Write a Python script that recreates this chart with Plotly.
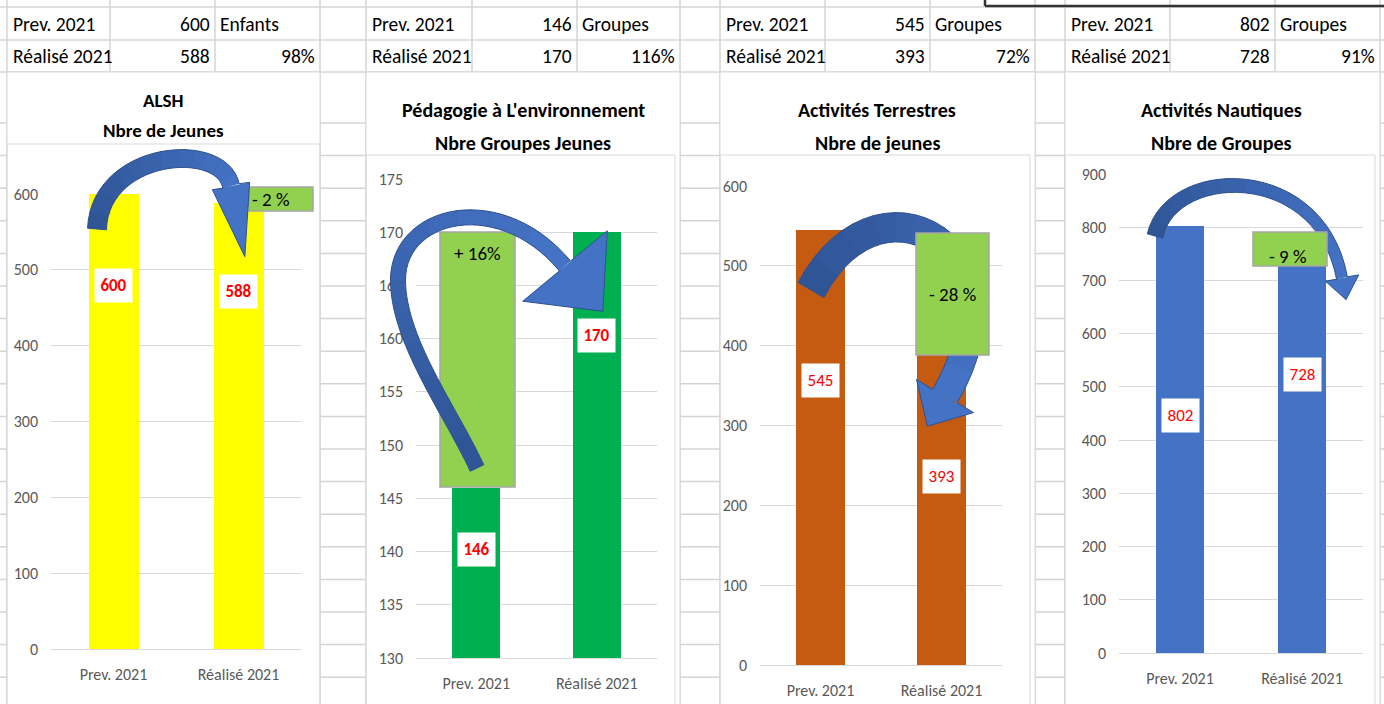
import plotly.graph_objects as go

W, H = 1384, 704
FONT = "Carlito, 'Liberation Sans Narrow', 'Arial Narrow', 'DejaVu Sans Condensed', sans-serif"

# Values read from the sheet
categories = ["Prev. 2021", "Réalisé 2021"]
prev_2021 = [600, 146, 545, 802]
realise_2021 = [588, 170, 393, 728]
units = ["Enfants", "Groupes", "Groupes", "Groupes"]
titles = ["ALSH", "Pédagogie à L'environnement", "Activités Terrestres", "Activités Nautiques"]
subtitles = ["Nbre de Jeunes", "Nbre Groupes Jeunes", "Nbre de jeunes", "Nbre de Groupes"]
y_ranges = [[0, 600], [130, 175], [0, 600], [0, 900]]
y_steps = [100, 5, 100, 100]

bar_colors = ["#FFFF00", "#00B050", "#C55A11", "#4472C4"]
GREEN = "#92D050"

# Where each block sits on the sheet (pixels)
panels = [
    dict(cols=[7, 110, 215, 320], chart=[7, 72, 320], frame=[7, 144, 320], grid_x=[51, 301], grid_y=[649, 194],
         title_x=163, title_y=[100, 130], title_size=19, bold=True, label_y=[480, 472],
         box=[249, 187, 313, 211], box_text=[271, 199], pct_sp=" %", box_on_top=False,
         arrow=dict(segs=[[(97, 229), (100, 150), (222, 140), (231, 186)]], w=[19, 17], head=[19, 72])),
    dict(cols=[366, 472, 577, 680], chart=[366, 72, 680], frame=[366, 155, 675], grid_x=[416, 657], grid_y=[658, 179],
         title_x=523, title_y=[110, 143], title_size=20, bold=True, label_y=[140.2, 160.3],
         box=[440, 232, 515, 487], box_text=[477, 253], pct_sp="%", box_on_top=False,
         arrow=dict(segs=[[(477, 468), (450, 410), (398, 340), (398, 280)],
                          [(398, 280), (398, 212), (500, 188), (565, 266)]], w=[15, 15], head=[55, 59])),
    dict(cols=[720, 825, 930, 1035], chart=[720, 72, 1035], frame=[720, 155, 1030], grid_x=[760, 1002], grid_y=[665, 186],
         title_x=877, title_y=[110, 143], title_size=20, bold=False, label_y=[356, 236],
         box=[916, 233, 989, 355], box_text=[952, 295], pct_sp=" %", box_on_top=True,
         arrow=dict(segs=[[(811, 290), (880, 160), (1030, 250), (945, 396)]], w=[30, 28], head=[33, 35])),
    dict(cols=[1065, 1170, 1275, 1380], chart=[1065, 72, 1380], frame=[1065, 155, 1375], grid_x=[1119, 1363], grid_y=[653, 174],
         title_x=1221, title_y=[110, 143], title_size=20, bold=False, label_y=[447, 523],
         box=[1253, 232, 1327, 266], box_text=[1288, 256], pct_sp=" %", box_on_top=True,
         arrow=dict(segs=[[(1155, 236), (1170, 165), (1320, 160), (1342, 278)]], w=[16, 11], head=[17, 22])),
]


def X(x):
    return x / W


def Y(y):
    return 1 - y / H


def rect(x0, y0, x1, y1, fill="rgba(0,0,0,0)", line="#D9D9D9", width=1, layer="below"):
    return dict(type="rect", xref="paper", yref="paper", x0=X(x0), y0=Y(y0), x1=X(x1), y1=Y(y1),
                fillcolor=fill, line=dict(color=line, width=width), layer=layer)


def seg_line(x0, y0, x1, y1, color="#D4D4D4", width=1.5, layer="below"):
    return dict(type="line", xref="paper", yref="paper", x0=X(x0), y0=Y(y0), x1=X(x1), y1=Y(y1),
                line=dict(color=color, width=width), layer=layer)


def path(poly, fill, line=None, width=0):
    d = "M " + " L ".join(f"{X(x):.5f},{Y(y):.5f}" for x, y in poly) + " Z"
    return dict(type="path", xref="paper", yref="paper", path=d, fillcolor=fill,
                line=dict(color=line or fill, width=width), layer="above")


def mix(c0, c1, t):
    a = [int(c0[i:i + 2], 16) for i in (1, 3, 5)]
    b = [int(c1[i:i + 2], 16) for i in (1, 3, 5)]
    return "#" + "".join(f"{round(u + (v - u) * t):02X}" for u, v in zip(a, b))


def bez(seg, n=30):
    (x0, y0), (x1, y1), (x2, y2), (x3, y3) = seg
    out = []
    for i in range(n + 1):
        t = i / n
        a, b, c, d = (1 - t) ** 3, 3 * (1 - t) ** 2 * t, 3 * (1 - t) * t * t, t ** 3
        out.append((a * x0 + b * x1 + c * x2 + d * x3, a * y0 + b * y1 + c * y2 + d * y3))
    return out


def arrow_shapes(segs, w, head, c0="#2F5597", c1="#4472C4", nseg=12):
    pts = []
    for s in segs:
        p = bez(s)
        pts += p if not pts else p[1:]
    n = len(pts)
    left, right = [], []
    for i in range(n):
        a, b = pts[max(i - 1, 0)], pts[min(i + 1, n - 1)]
        tx, ty = b[0] - a[0], b[1] - a[1]
        ln = (tx * tx + ty * ty) ** 0.5
        nx, ny = -ty / ln, tx / ln
        half = (w[0] + (w[1] - w[0]) * i / (n - 1)) / 2
        left.append((pts[i][0] + nx * half, pts[i][1] + ny * half))
        right.append((pts[i][0] - nx * half, pts[i][1] - ny * half))
    p2, p3 = segs[-1][2], segs[-1][3]
    dx, dy = p3[0] - p2[0], p3[1] - p2[1]
    ln = (dx * dx + dy * dy) ** 0.5
    dx, dy = dx / ln, dy / ln
    nx, ny = -dy, dx
    hw, hl = head
    e = pts[-1]
    b1 = (e[0] + nx * hw, e[1] + ny * hw)
    b2 = (e[0] - nx * hw, e[1] - ny * hw)
    tip = (e[0] + dx * hl, e[1] + dy * hl)
    out = []
    step = (n - 1) / nseg
    for k in range(nseg):
        i0 = int(round(k * step))
        i1 = min(n - 1, int(round((k + 1) * step)) + 1)
        poly = left[i0:i1 + 1] + right[i0:i1 + 1][::-1]
        out.append(path(poly, mix(c0, c1, k / (nseg - 1))))
    out.append(path([b1, tip, b2], c1))
    out.append(path(left + [b1, tip, b2] + right[::-1], "rgba(0,0,0,0)", line="#2F528F", width=1))
    return out


fig = go.Figure()
shapes, annotations = [], []
layout = {}

# Spreadsheet grid behind everything
rows = [7, 40, 72, 123] + [123 + 32.6 * k for k in range(1, 18)]
cols = [7, 110, 215, 320, 366, 472, 577, 680, 720, 825, 930, 1035, 1065, 1170, 1275, 1380]
for r in rows:
    shapes.append(seg_line(0, r, W, r))
for c in cols:
    shapes.append(seg_line(c, 0, c, H))

# dark frame of a floating box at top right
shapes.append(seg_line(985, 6, W, 6, color="#333333", width=2.5, layer="above"))
shapes.append(seg_line(985, 0, 985, 6, color="#333333", width=2.5, layer="above"))


def txt(x, y, s, anchor="left", size=19.5, color="black", bold=False):
    annotations.append(dict(x=X(x), y=Y(y), xref="paper", yref="paper", text=f"<b>{s}</b>" if bold else s,
                            showarrow=False, xanchor=anchor, yanchor="middle",
                            font=dict(size=size, color=color, family=FONT)))


for i, p in enumerate(panels):
    sx = "" if i == 0 else str(i + 1)
    prev, real = prev_2021[i], realise_2021[i]

    # table above the chart
    c = p["cols"]
    txt(c[0] + 4, 24, "Prev. 2021")
    txt(c[2] - 3, 24, str(prev), anchor="right")
    txt(c[2] + 3, 24, units[i])
    txt(c[0] + 4, 56, "Réalisé 2021")
    txt(c[2] - 3, 56, str(real), anchor="right")
    txt(c[3] - 3, 56, f"{round(real / prev * 100)}%", anchor="right")

    # chart body and plot frame
    cx0, cy0, cx1 = p["chart"]
    shapes.append(rect(cx0, cy0, cx1, H + 5, fill="white", line="#D9D9D9"))
    fx0, fy0, fx1 = p["frame"]
    shapes.append(rect(fx0, fy0, fx1, H + 5, line="#D9D9D9"))

    # titles
    txt(p["title_x"], p["title_y"][0], titles[i], anchor="center", size=p["title_size"], bold=True)
    txt(p["title_x"], p["title_y"][1], subtitles[i], anchor="center", size=p["title_size"], bold=True)

    fig.add_trace(go.Bar(x=categories, y=[prev, real], width=0.4,
                         marker=dict(color=bar_colors[i], line=dict(width=0)),
                         xaxis="x" + sx, yaxis="y" + sx, showlegend=False))

    layout["xaxis" + sx] = dict(domain=[X(p["grid_x"][0]), X(p["grid_x"][1])], anchor="y" + sx,
                                type="category", range=[-0.5, 1.5], showgrid=False, showline=True,
                                linecolor="#D9D9D9", linewidth=1, ticks="", automargin=False,
                                tickfont=dict(size=16, color="#595959", family=FONT),
                                ticklabelstandoff=11, fixedrange=True)
    layout["yaxis" + sx] = dict(domain=[Y(p["grid_y"][0]), Y(p["grid_y"][1])], anchor="x" + sx,
                                range=y_ranges[i], tick0=y_ranges[i][0], dtick=y_steps[i],
                                showgrid=True, gridcolor="#D9D9D9", gridwidth=1, zeroline=False,
                                showline=False, ticks="", automargin=False,
                                tickfont=dict(size=16, color="#595959", family=FONT),
                                ticklabelstandoff=12, fixedrange=True)

    # value labels
    for cat, v, ly in zip(categories, [prev, real], p["label_y"]):
        s = f"<b>{v}</b>" if p["bold"] else str(v)
        annotations.append(dict(x=cat, y=ly, xref="x" + sx, yref="y" + sx, text=s, showarrow=False,
                                bgcolor="white", width=35, height=31, align="center",
                                font=dict(size=17, color="#FF0000", family=FONT)))

    # green change box and curved arrow
    d = round((real - prev) / prev * 100)
    pct = f"{'+' if d > 0 else '-'} {abs(d)}{p['pct_sp']}"
    bx0, by0, bx1, by1 = p["box"]
    box = rect(bx0, by0, bx1, by1, fill=GREEN, line="#A5A5A5", width=1.5, layer="above")
    arr = arrow_shapes(**p["arrow"])
    shapes.extend(arr + [box] if p["box_on_top"] else [box] + arr)
    txt(p["box_text"][0], p["box_text"][1], pct, anchor="center", size=19)

fig.update_layout(width=W, height=H, margin=dict(l=0, r=0, t=0, b=0), template="none",
                  paper_bgcolor="white", plot_bgcolor="rgba(0,0,0,0)", font=dict(family=FONT),
                  shapes=shapes, annotations=annotations, bargap=0, **layout)

fig.write_html("out.html", config={"displayModeBar": False},
               post_script="document.body.style.margin='0';")
